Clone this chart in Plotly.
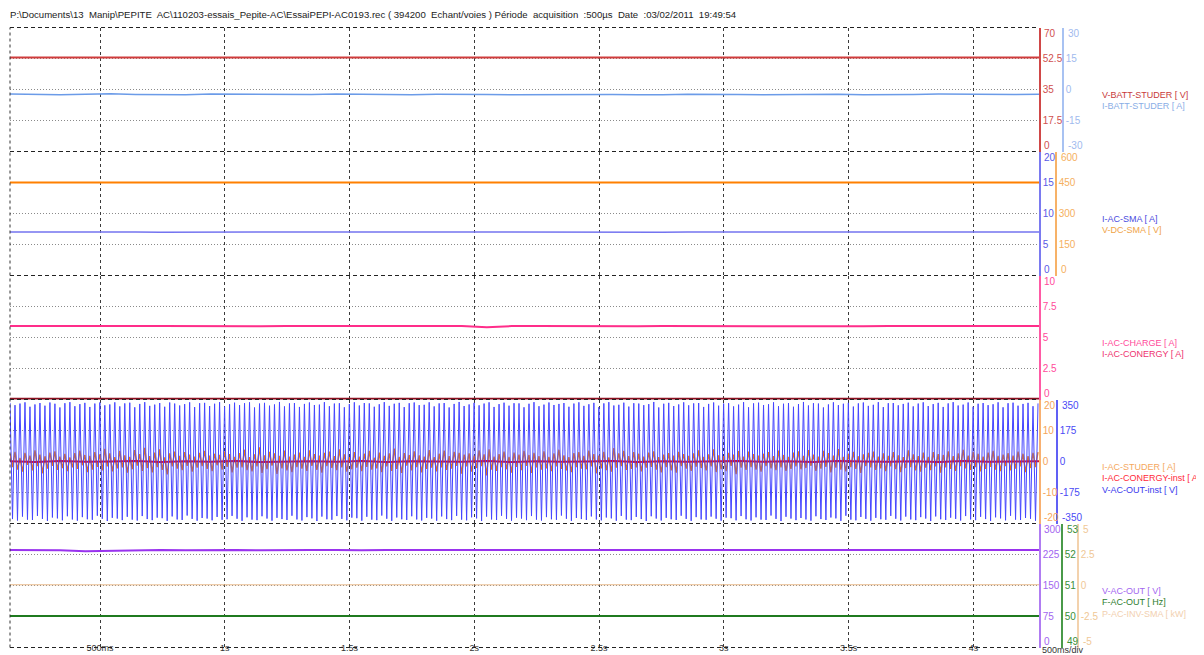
import numpy as np
import plotly.graph_objects as go

T_START, T_END = 0.139, 4.263          # fenetre affichee (s)
DT_FAST = 0.01                         # demi-periode 50 Hz

x_tickvals = [0.5, 1.0, 1.5, 2.0, 2.5, 3.0, 3.5, 4.0]
x_ticktext = ["500ms", "1s", "1.5s", "2s", "2.5s", "3s", "3.5s", "4s"]

# Panneau 1
v_batt_studer = [53.1, 53.0, 53.2, 52.9, 53.1, 53.0, 53.0, 53.1, 52.9, 53.0, 53.1, 53.0, 52.9, 53.0,
                 53.1, 53.0, 53.0, 52.9, 53.1, 53.0, 53.0, 53.1, 53.0, 52.9, 53.0, 53.0, 53.1, 53.2,
                 52.9, 53.0, 53.1, 53.0, 53.0, 52.9, 53.0, 53.1, 53.0, 53.0, 52.9, 53.1, 53.0, 53.0]
i_batt_studer = [-2.2, -2.5, -2.6, -2.3, -2.1, -2.4, -2.6, -2.5, -2.2, -2.3, -2.5, -2.6, -2.4, -2.2,
                 -2.3, -2.6, -2.5, -2.3, -2.2, -2.4, -2.6, -2.5, -2.3, -2.2, -2.4, -2.5, -2.6, -2.3,
                 -2.2, -2.4, -2.6, -2.5, -2.2, -2.3, -2.5, -2.6, -2.4, -2.2, -2.3, -2.5, -2.4, -2.3]

# Panneau 2
i_ac_sma = [7.0, 7.02, 6.98, 7.0, 7.01, 7.0, 6.99, 7.0, 7.02, 7.0, 6.98, 7.0, 7.01, 7.0,
            7.0, 6.99, 7.01, 7.0, 7.0, 7.02, 7.0, 6.98, 7.0, 7.01, 7.0, 7.0, 6.99, 7.0,
            7.02, 7.0, 7.0, 6.98, 7.01, 7.0, 7.0, 6.99, 7.0, 7.02, 7.0, 7.0, 6.99, 7.0]
v_dc_sma = [450.2, 450.0, 449.8, 450.1, 450.0, 450.3, 449.9, 450.0, 450.1, 449.8, 450.0, 450.2, 450.0, 449.9,
            450.1, 450.0, 450.0, 449.8, 450.2, 450.0, 450.1, 449.9, 450.0, 450.0, 450.2, 449.8, 450.0, 450.1,
            450.0, 449.9, 450.1, 450.0, 450.0, 450.2, 449.8, 450.0, 450.1, 450.0, 449.9, 450.0, 450.1, 450.0]

# Panneau 3
i_ac_charge = [5.92, 5.91, 5.93, 5.92, 5.90, 5.92, 5.93, 5.91, 5.92, 5.92, 5.90, 5.93, 5.92, 5.91,
               5.92, 5.93, 5.92, 5.91, 5.92, 5.82, 5.92, 5.93, 5.91, 5.92, 5.92, 5.90, 5.93, 5.92,
               5.91, 5.92, 5.93, 5.92, 5.91, 5.92, 5.90, 5.92, 5.93, 5.91, 5.92, 5.92, 5.91, 5.92]
i_ac_conergy = [0.0, 0.0, 0.0, 0.0, 0.0, 0.0, 0.0, 0.0, 0.0, 0.0, 0.0, 0.0, 0.0, 0.0,
                0.0, 0.0, 0.0, 0.0, 0.0, 0.0, 0.0, 0.0, 0.0, 0.0, 0.0, 0.0, 0.0, 0.0,
                0.0, 0.0, 0.0, 0.0, 0.0, 0.0, 0.0, 0.0, 0.0, 0.0, 0.0, 0.0, 0.0, 0.0]

# Panneau 4 (instantanes, une valeur par demi-periode)
v_ac_out_inst_peaks = [
    331, 318, 327, 334, 309, 322, 330, 315, 333, 326, 305, 329, 335, 312, 324, 331, 308, 327, 333, 317, 322, 334, 311,
    328, 332, 306, 325, 335, 314, 321, 330, 309, 333, 327, 316, 324, 334, 307, 329, 331, 313, 326, 335, 310, 323, 332,
    318, 329, 334, 305, 327, 331, 315, 322, 336, 311, 328, 330, 308, 325, 333, 319, 321, 335, 312, 327, 329, 306, 324,
    334, 316, 330, 328, 309, 323, 335, 314, 326, 331, 307, 329, 333, 318, 320, 334, 311, 328, 330, 305, 325, 336, 313,
    322, 331, 317, 327, 334, 308, 324, 332, 315, 329, 328, 306, 326, 335, 312, 321, 333, 319, 325, 330, 309, 327, 334,
    314, 323, 331, 307, 328, 335, 316, 320, 332, 310, 329, 327, 318, 324, 336, 305, 326, 331, 313, 322, 334, 317, 328,
    330, 308, 325, 333, 315, 327, 329, 311, 321, 335, 306, 328, 332, 319, 323, 334, 312, 326, 330, 309, 324, 336, 316,
    329, 327, 305, 322, 334, 318, 326, 331, 310, 328, 333, 314, 320, 335, 307, 329, 330, 317, 325, 332, 311, 327, 334,
    313, 324, 331, 308, 328, 335, 316, 321, 333, 309, 326, 330, 318, 323, 334, 306, 329, 332, 315, 325, 331, 312, 328]
v_ac_out_inst_troughs = [
    -325, -333, -311, -328, -330, -307, -324, -335, -316, -321, -332, -309, -327, -334, -314, -326, -329, -306, -323, -336, -318, -322, -331,
    -312, -328, -333, -308, -325, -331, -317, -320, -335, -310, -327, -330, -305, -324, -334, -319, -322, -332, -313, -329, -326, -307, -323,
    -335, -315, -328, -331, -309, -322, -334, -318, -325, -330, -306, -327, -333, -314, -321, -336, -311, -326, -329, -308, -324, -332, -317,
    -320, -334, -312, -328, -331, -305, -323, -335, -316, -326, -330, -309, -327, -333, -318, -322, -334, -310, -325, -331, -307, -328, -332,
    -315, -321, -336, -311, -327, -330, -306, -324, -334, -317, -322, -331, -308, -328, -333, -314, -326, -329, -305, -323, -335, -319, -325,
    -330, -310, -327, -332, -316, -321, -334, -307, -328, -331, -313, -325, -336, -309, -322, -333, -318, -326, -330, -306, -324, -335, -314,
    -327, -329, -311, -323, -334, -317, -320, -332, -308, -326, -333, -315, -328, -330, -305, -324, -336, -312, -322, -331, -319, -327, -334,
    -309, -325, -330, -316, -321, -335, -306, -328, -332, -313, -324, -334, -318, -326, -329, -307, -323, -333, -311, -327, -331, -314, -322,
    -336, -310, -326, -330, -317, -324, -333, -308, -327, -331, -312, -325, -335, -315, -321, -332, -306, -328, -330, -319, -323, -334]
i_ac_studer = [
    2.4, -1.8, 3.1, -2.6, 1.2, -3.3, 2.8, -1.1, 1.9, -2.9, 3.6, -1.5, 2.2, -3.8, 1.7, -2.3, 2.9, -1.4, 3.3, -2.7, 1.6, -2.1, 2.5,
    -3.1, 1.3, -1.9, 2.7, -2.4, 3.5, -1.2, 2.1, -3.4, 1.8, -2.6, 3.0, -1.7, 2.3, -2.9, 4.1, -1.6, 2.6, -3.2, 1.4, -2.2, 3.4, -1.9,
    2.0, -3.6, 1.5, -2.5, 3.7, -1.3, 2.4, -3.0, 4.4, -2.1, 1.7, -3.5, 2.9, -1.8, 3.9, -2.7, 1.3, -4.2, 2.6, -1.6, 3.2, -2.3, 1.8,
    -2.8, 3.0, -1.4, 2.2, -3.3, 1.6, -2.0, 2.8, -1.5, 3.4, -2.4, 1.9, -3.1, 2.5, -1.2, 2.1, -2.6, 3.3, -1.7, 2.4, -3.5, 1.5, -2.0,
    2.7, -1.9, 3.8, -2.8, 1.4, -3.2, 2.3, -1.6, 4.6, -3.7, 2.0, -2.5, 3.1, -1.3, 2.6, -4.0, 1.8, -2.2, 3.5, -2.9, 1.6, -3.4, 2.2,
    -1.8, 2.9, -2.3, 1.5, -3.0, 3.6, -1.4, 2.4, -2.7, 1.9, -3.6, 2.8, -1.5, 3.2, -2.1, 1.7, -2.8, 3.9, -1.9, 2.3, -3.3, 1.4, -2.5,
    3.0, -2.0, 1.6, -3.1, 2.5, -1.7, 3.4, -2.6, 1.2, -2.2, 2.9, -3.4, 1.8, -1.6, 2.6, -3.0, 4.2, -2.4, 1.5, -3.7, 2.7, -1.3, 2.1,
    -2.9, 3.3, -1.8, 2.0, -3.5, 1.6, -2.4, 3.7, -2.0, 1.4, -3.2, 2.5, -1.9, 3.5, -2.7, 1.7, -2.3, 3.1, -1.4, 2.8, -3.9, 2.2, -1.6,
    2.6, -3.3, 1.9, -2.1, 3.6, -1.5, 2.3, -4.5, 3.9, -2.6, 1.6, -3.0, 2.4, -1.8, 3.2, -2.5, 1.5, -3.6, 2.9, -1.7, 2.2, -2.8, 3.4,
    -1.4, 2.1, -3.7, 2.8, -1.9, 1.7, -2.6, 3.3, -2.2, 1.5, -3.1, 2.6, -1.6, 3.8, -2.4, 2.0, -2.9, 1.4, -3.4, 2.7, -1.8, 3.0, -2.3,
    1.8, -2.5, 3.5, -1.6, 2.4, -3.8, 1.9, -2.2, 3.1, -2.8, 1.3, -3.3, 4.3, -2.0, 2.6, -1.5, 3.4, -2.7, 1.7, -2.4, 3.0, -1.9, 2.5,
    -3.2, 1.6, -2.0, 2.9, -1.7, 3.3, -2.6, 1.4, -3.5, 2.2, -1.8, 2.7, -2.9, 1.9, -3.6, 3.1, -1.5, 2.4, -2.3, 1.8, -3.0, 2.6, -1.7,
    3.6, -2.1, 1.5, -2.9, 2.3, -1.6, 3.9, -3.4, 2.0, -2.5, 1.7, -3.1, 2.8, -1.4, 2.2, -4.1, 3.4, -2.0, 1.6, -2.7, 3.2, -1.8, 2.4,
    -2.6, 1.9, -3.3, 2.5, -1.5, 3.0, -2.2, 1.7, -2.8, 3.5, -1.9, 2.1, -3.0, 1.5, -2.4, 2.9, -1.6, 3.3, -2.5, 1.8, -2.1, 3.7, -1.4,
    2.2, -3.0, 1.6, -2.3, 3.4, -1.7, 2.7, -3.5, 1.9, -2.0, 4.0, -2.6, 1.5, -3.2, 2.5, -1.8, 3.1, -2.4, 1.7, -3.7, 2.3, -1.5, 2.8,
    -1.9, 3.2, -2.7, 1.6, -2.2, 2.6, -3.1, 1.8, -1.6, 3.0, -2.5, 2.0, -3.4, 1.4, -2.1, 3.6, -1.8, 2.3, -2.9, 1.7, -3.3, 2.9, -2.0,
    1.5, -2.8, 3.0, -1.6, 2.4, -3.6, 2.1, -1.9, 3.3, -2.4, 1.7, -3.0, 2.6, -1.5, 3.8, -2.2, 1.9, -2.7, 3.1, -1.8, 2.5, -3.2, 1.6,
    -2.4, 2.9, -1.7, 3.4, -2.6, 1.8, -3.1, 2.2, -1.5, 2.7, -2.9, 1.9, -2.3, 3.2, -1.6, 2.5, -3.4, 1.7, -2.1, 2.8, -1.8, 3.0]
i_ac_conergy_inst = [0.1, -0.2, 0.2, -0.1, 0.0, 0.2, -0.2, 0.1, -0.1, 0.2, -0.2, 0.0, 0.1, -0.1,
                     0.2, -0.2, 0.1, 0.0, -0.1, 0.2, -0.2, 0.1, -0.1, 0.0, 0.2, -0.2, 0.1, -0.1,
                     0.0, 0.2, -0.1, 0.1, -0.2, 0.2, 0.0, -0.1, 0.1, -0.2, 0.2, -0.1, 0.0, 0.1]

# Panneau 5
v_ac_out = [236, 236, 235, 233, 234, 236, 236, 235, 236, 236, 235, 236, 236, 236,
            235, 236, 236, 236, 235, 236, 236, 235, 236, 236, 236, 235, 236, 236,
            236, 235, 236, 236, 235, 236, 236, 236, 235, 236, 236, 235, 236, 236]
f_ac_out = [50.02, 50.02, 50.01, 50.02, 50.02, 50.02, 50.01, 50.02, 50.02, 50.02, 50.01, 50.02, 50.02, 50.02,
            50.02, 50.01, 50.02, 50.02, 50.02, 50.02, 50.01, 50.02, 50.02, 50.02, 50.01, 50.02, 50.02, 50.02,
            50.02, 50.02, 50.01, 50.02, 50.02, 50.02, 50.01, 50.02, 50.02, 50.02, 50.02, 50.01, 50.02, 50.02]
p_ac_inv = [0.06, 0.05, 0.06, 0.05, 0.06, 0.06, 0.05, 0.06, 0.05, 0.06, 0.06, 0.05, 0.06, 0.05,
            0.06, 0.05, 0.06, 0.06, 0.05, 0.06, 0.05, 0.06, 0.06, 0.05, 0.06, 0.05, 0.06, 0.06,
            0.05, 0.06, 0.05, 0.06, 0.06, 0.05, 0.06, 0.05, 0.06, 0.06, 0.05, 0.06, 0.05, 0.06]

HEADER = ("P:\\Documents\\13  Manip\\PEPITE  AC\\110203-essais_Pepite-AC\\EssaiPEPI-AC0193.rec "
          "( 394200  Echant/voies ) Période  acquisition  :500µs  Date  :03/02/2011  19:49:54")

# ------------ MISE EN PAGE ------------ #
# la page html ajoute une marge de 8 px : on travaille en pixels de l'ecran
OFF = 8
W, H = 1204 - OFF, 655 - OFF
FONT = "Liberation Sans, Arial, sans-serif"
EDGES = [27.5, 151.5, 275.5, 399.5, 523.5, 647.5]   # bords des panneaux (px ecran depuis le haut)
RIGHT = 1039


def px(p):
    return (p - OFF) / W


def py(p):
    return 1 - (p - OFF) / H


X0, X1 = px(10), px(RIGHT)

# (axe, panneau, plage, valeurs, textes, couleur trait, couleur texte, position px ou None)
axes = [
    ("y", 0, [0, 70], [0, 17.5, 35, 52.5, 70], ["0", "17.5", "35", "52.5", "70"], "#d04848", "#d05050", None),
    ("y2", 0, [-30, 30], [-30, -15, 0, 15, 30], ["-30", "-15", "0", "15", "30"], "#a8c2f2", "#9fbaee", 1063),
    ("y3", 1, [0, 20], [0, 5, 10, 15, 20], ["0", "5", "10", "15", "20"], "#7a7af0", "#5a5ae6", None),
    ("y4", 1, [0, 600], [0, 150, 300, 450, 600], ["0", "150", "300", "450", "600"], "#f7b268", "#f5b060", 1056),
    ("y5", 2, [0, 10], [0, 2.5, 5, 7.5, 10], ["0", "2.5", "5", "7.5", "10"], "#ff5aa5", "#ff4b9b", None),
    ("y6", 3, [-20, 20], [-20, -10, 0, 10, 20], ["-20", "-10", "0", "10", "20"], "#f8b070", "#f5a55a", None),
    ("y7", 3, [-350, 350], [-350, -175, 0, 175, 350], ["-350", "-175", "0", "175", "350"], "#6060f5", "#4a4af5", 1057),
    ("y8", 4, [0, 300], [0, 75, 150, 225, 300], ["0", "75", "150", "225", "300"], "#b07cf2", "#a366f0", None),
    ("y9", 4, [49, 53], [49, 50, 51, 52, 53], ["49", "50", "51", "52", "53"], "#4a9a4a", "#3a8f3a", 1062),
    ("y10", 4, [-5, 5], [-5, -2.5, 0, 2.5, 5], ["-5", "-2.5", "0", "2.5", "5"], "#f3d2ad", "#f0c896", 1078),
]

fig = go.Figure()
layout = {}
annotations = []
primary = {}
for name, panel, rng, vals, texts, lcol, tcol, pos in axes:
    key = "yaxis" if name == "y" else "yaxis" + name[1:]
    ax = dict(range=rng, side="right", showline=True, linecolor=lcol, linewidth=1.5,
              tickmode="array", tickvals=vals[1:-1], ticktext=texts[1:-1], ticks="",
              tickfont=dict(family=FONT, size=10, color=tcol), showgrid=False,
              zeroline=False, automargin=False, fixedrange=True)
    if pos is None:
        primary[panel] = name
        ax.update(domain=[py(EDGES[panel + 1]), py(EDGES[panel])], anchor="x",
                  minor=dict(tickmode="array", tickvals=vals[1:-1], showgrid=True,
                             gridcolor="#8a8a8a", griddash="1px,2px", gridwidth=1, ticks=""))
    else:
        ax.update(overlaying=primary[panel], anchor="free", position=px(pos))
    layout[key] = ax
    # libelles d'extremite decales vers l'interieur du panneau
    xpos = px(pos if pos is not None else RIGHT)
    for v, t, shift in [(vals[0], texts[0], 6), (vals[-1], texts[-1], -6)]:
        annotations.append(dict(x=xpos, xref="paper", y=v, yref=name, text=t, showarrow=False,
                                xanchor="left", yanchor="middle", xshift=3, yshift=shift,
                                font=dict(family=FONT, size=10, color=tcol)))

t_fast = T_START + DT_FAST * np.arange(len(v_ac_out_inst_peaks) + len(v_ac_out_inst_troughs))
v_ac_out_inst = np.empty(len(t_fast))
v_ac_out_inst[0::2] = v_ac_out_inst_peaks
v_ac_out_inst[1::2] = v_ac_out_inst_troughs
t_studer = T_START + DT_FAST * np.arange(len(i_ac_studer))


def slow_t(values):
    return np.linspace(T_START, T_END, len(values))


traces = [
    (slow_t(v_batt_studer), v_batt_studer, "y", "#d03c3c", 2),
    (slow_t(i_batt_studer), i_batt_studer, "y2", "#6b9be8", 1.5),
    (slow_t(i_ac_sma), i_ac_sma, "y3", "#7474f0", 1.5),
    (slow_t(v_dc_sma), v_dc_sma, "y4", "#ff8000", 2),
    (slow_t(i_ac_conergy), i_ac_conergy, "y5", "#8b0f1f", 3.5),
    (slow_t(i_ac_charge), i_ac_charge, "y5", "#ff2d8a", 2),
    (t_fast, v_ac_out_inst, "y7", "#4646ff", 1),
    (t_studer, i_ac_studer, "y6", "#f07a10", 1.4),
    (slow_t(i_ac_conergy_inst), i_ac_conergy_inst, "y6", "#d8102a", 2),
    (slow_t(p_ac_inv), p_ac_inv, "y10", "#e8b888", 1),
    (slow_t(f_ac_out), f_ac_out, "y9", "#1f7a1f", 2),
    (slow_t(v_ac_out), v_ac_out, "y8", "#9933ee", 2),
]
for x, y, yax, col, w in traces:
    fig.add_trace(go.Scatter(x=x, y=y, yaxis=yax, xaxis="x", mode="lines",
                             line=dict(color=col, width=w), hoverinfo="skip", showlegend=False))

# bordures pointillees des panneaux
shapes = []
for e in EDGES:
    shapes.append(dict(type="line", xref="paper", yref="paper", x0=X0, x1=X1, y0=py(e), y1=py(e),
                       line=dict(color="#222", width=1, dash="4px,3px"), layer="above"))
shapes.append(dict(type="line", xref="paper", yref="paper", x0=X0, x1=X0, y0=py(EDGES[-1]), y1=py(EDGES[0]),
                   line=dict(color="#333", width=1, dash="3px,3px"), layer="above"))

# legendes de droite
legends = [
    (0, [("V-BATT-STUDER [ V]", "#c83a3a"), ("I-BATT-STUDER [ A]", "#8aaee6")]),
    (1, [("I-AC-SMA [ A]", "#4b4bde"), ("V-DC-SMA [ V]", "#f0a448")]),
    (2, [("I-AC-CHARGE [ A]", "#ff4b9b"), ("I-AC-CONERGY [ A]", "#ee3370")]),
    (3, [("I-AC-STUDER [ A]", "#f5a860"), ("I-AC-CONERGY-inst [ A]", "#ff2a3a"), ("V-AC-OUT-inst [ V]", "#3a3aee")]),
    (4, [("V-AC-OUT [ V]", "#a366f0"), ("F-AC-OUT [ Hz]", "#2e7d2e"), ("P-AC-INV-SMA [ kW]", "#f2d0b0")]),
]
for panel, items in legends:
    mid = (EDGES[panel] + EDGES[panel + 1]) / 2
    for i, (txt, col) in enumerate(items):
        yy = mid + 5 + i * 11.7
        annotations.append(dict(x=px(1100), xref="paper", y=py(yy), yref="paper", text=txt, showarrow=False,
                                xanchor="left", yanchor="middle", font=dict(family=FONT, size=9, color=col)))

annotations.append(dict(x=px(8), xref="paper", y=py(15), yref="paper", text=HEADER, showarrow=False,
                        xanchor="left", yanchor="middle", font=dict(family=FONT, size=9.6, color="#222")))
annotations.append(dict(x=px(1040), xref="paper", y=py(650), yref="paper", text="500ms/div", showarrow=False,
                        xanchor="left", yanchor="middle", font=dict(family=FONT, size=9, color="#333")))

fig.update_layout(
    width=W, height=H,
    margin=dict(l=0, r=0, t=0, b=0),
    template="none",
    plot_bgcolor="white", paper_bgcolor="white",
    showlegend=False,
    xaxis=dict(domain=[X0, X1], range=[T_START, T_END], anchor="y8", tickmode="array",
               tickvals=x_tickvals, ticktext=x_ticktext, ticks="", showgrid=True,
               gridcolor="#3a3a3a", griddash="3px,3px", gridwidth=1, zeroline=False, showline=False,
               tickfont=dict(family=FONT, size=9, color="#333"), automargin=False, fixedrange=True,
               ticklabelstandoff=-7),
    shapes=shapes,
    annotations=annotations,
    **layout,
)

fig.write_html("out.html")
